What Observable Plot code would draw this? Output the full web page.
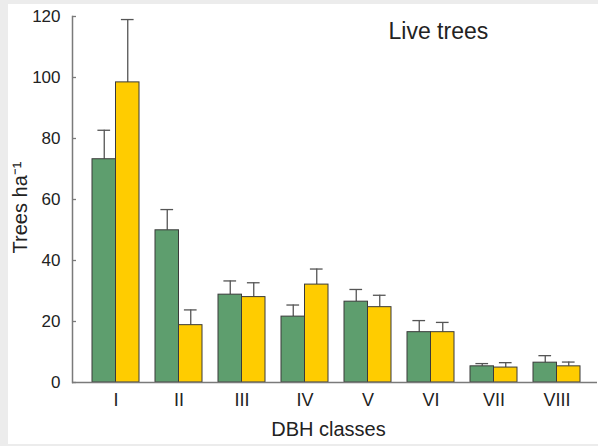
<!DOCTYPE html>
<html><head><meta charset="utf-8">
<script src="https://cdn.jsdelivr.net/npm/d3@7"></script>
<script src="https://cdn.jsdelivr.net/npm/@observablehq/plot@0.6"></script>
<style>
html,body{margin:0;padding:0;background:#ececec;}
#panel{position:absolute;left:8px;top:4px;width:590px;height:440px;background:#fff;}
</style></head><body><div id="panel"></div>
<script>
const classes = ["I", "II", "III", "IV", "V", "VI", "VII", "VIII"];
const greenValues = [73.2, 49.9, 28.8, 21.6, 26.5, 16.5, 5.3, 6.5];
const greenSE = [9.5, 6.8, 4.5, 3.8, 4.0, 3.8, 0.9, 2.3];
const yellowValues = [98.4, 18.8, 28.0, 32.1, 24.7, 16.5, 4.9, 5.3];
const yellowSE = [20.6, 5.0, 4.7, 5.1, 3.9, 3.2, 1.6, 1.4];
const yTicks = [0, 20, 40, 60, 80, 100, 120];
const greenColor = "#5e9e6e";
const yellowColor = "#ffcc00";

const greenRows = classes.map((c, i) => ({cls: c, v: greenValues[i], top: greenValues[i] + greenSE[i]}));
const yellowRows = classes.map((c, i) => ({cls: c, v: yellowValues[i], top: yellowValues[i] + yellowSE[i]}));

const font = "'Liberation Sans', Arial, sans-serif";
const edge = "#3a3a3a";
const errC = "#555";
const axisC = "#7a7a7a";

const chart = Plot.plot({
  width: 590, height: 440,
  marginLeft: 64, marginRight: 1, marginTop: 12, marginBottom: 62,
  style: {fontFamily: font, background: "white", color: "#222"},
  x: {domain: classes, paddingInner: 0.258, paddingOuter: 0.274, align: 0.527},
  y: {domain: [0, 120]},
  marks: [
    Plot.ruleX(greenRows, {x: "cls", y1: "v", y2: "top", dx: -11.75, stroke: errC, strokeWidth: 1.3}),
    Plot.ruleX(yellowRows, {x: "cls", y1: "v", y2: "top", dx: 11.75, stroke: errC, strokeWidth: 1.3}),
    Plot.tickY(greenRows, {x: "cls", y: "top", insetLeft: 5.4, insetRight: 28.9, stroke: errC, strokeWidth: 1.3}),
    Plot.tickY(yellowRows, {x: "cls", y: "top", insetLeft: 28.9, insetRight: 5.4, stroke: errC, strokeWidth: 1.3}),
    Plot.barY(greenRows, {x: "cls", y: "v", fill: greenColor, stroke: edge, strokeWidth: 1, insetRight: 23.5}),
    Plot.barY(yellowRows, {x: "cls", y: "v", fill: yellowColor, stroke: edge, strokeWidth: 1, insetLeft: 23.5}),
    Plot.ruleY([0], {stroke: axisC, strokeWidth: 1.5}),
    Plot.frame({anchor: "left", stroke: axisC, strokeWidth: 1.5}),
    Plot.tickY(yTicks, {y: d => d, insetRight: 521, stroke: axisC, strokeWidth: 1.3}),
    Plot.axisY(yTicks, {tickSize: 0, tickPadding: 12, fontSize: 17, fill: "#222", label: null}),
    Plot.axisX({tickSize: 0, tickPadding: 11, fontSize: 18, fill: "#222", label: null}),
    Plot.text(["Trees ha⁻¹"], {frameAnchor: "left", textAnchor: "middle", rotate: -90, dx: -52, dy: 8, fontSize: 20, fill: "#222"}),
    Plot.text(["DBH classes"], {frameAnchor: "bottom", dy: 53, dx: -6.5, fontSize: 20, fill: "#222"}),
    Plot.text(["Live trees"], {frameAnchor: "top-left", textAnchor: "start", dx: 316, dy: 6, fontSize: 23, fill: "#222"})
  ]
});
document.getElementById("panel").appendChild(chart);
</script></body></html>
